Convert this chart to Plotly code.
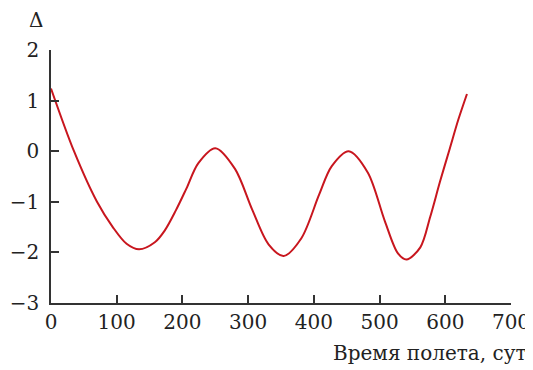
import plotly.graph_objects as go

days = [0, 35, 70, 94, 115, 134, 158, 173, 190, 206, 224, 250, 280, 306, 331, 354, 381, 408, 427, 453, 482, 508, 528, 541, 562, 577, 592, 607, 620, 633]
delta = [1.24, 0.0, -1.0, -1.5, -1.83, -1.94, -1.80, -1.57, -1.17, -0.74, -0.24, 0.06, -0.35, -1.15, -1.84, -2.07, -1.72, -0.86, -0.30, 0.0, -0.42, -1.38, -2.02, -2.14, -1.90, -1.30, -0.60, 0.06, 0.63, 1.13]

x_ticks = [0, 100, 200, 300, 400, 500, 600, 700]
y_ticks = [-3, -2, -1, 0, 1, 2]

axis_color = "#333333"
font = dict(family="DejaVu Serif", size=20, color="#222222")

fig = go.Figure()
fig.add_trace(go.Scatter(x=days, y=delta, mode="lines",
                         line=dict(color="#c8161e", width=2, shape="spline", smoothing=0.9),
                         hoverinfo="skip", showlegend=False))

fig.update_layout(
    width=525, height=362,
    margin=dict(l=43, r=22, t=42, b=67),
    paper_bgcolor="white", plot_bgcolor="white",
    font=font,
    xaxis=dict(range=[0, 700], tickvals=x_ticks, ticks="inside", ticklen=8, tickwidth=1.5,
               tickcolor=axis_color, showline=True, linecolor=axis_color, linewidth=1.5,
               showgrid=False, zeroline=False, tickfont=font, automargin=False, fixedrange=True),
    yaxis=dict(range=[-3, 2], tickvals=y_ticks, ticks="inside", ticklen=8, tickwidth=1.5,
               tickcolor=axis_color, showline=True, linecolor=axis_color, linewidth=1.5,
               showgrid=False, zeroline=False, tickfont=font, ticklabelstandoff=6,
               automargin=False, fixedrange=True),
    annotations=[
        dict(text="Δ", xref="paper", yref="paper", x=-0.032, y=1.0, yshift=30,
             xanchor="center", yanchor="middle", showarrow=False, font=font),
        dict(text="Время полета, сут", xref="paper", yref="paper", x=1.04, y=0, yshift=-50,
             xanchor="right", yanchor="middle", showarrow=False, font=font),
    ],
)

fig.write_html("out.html")
